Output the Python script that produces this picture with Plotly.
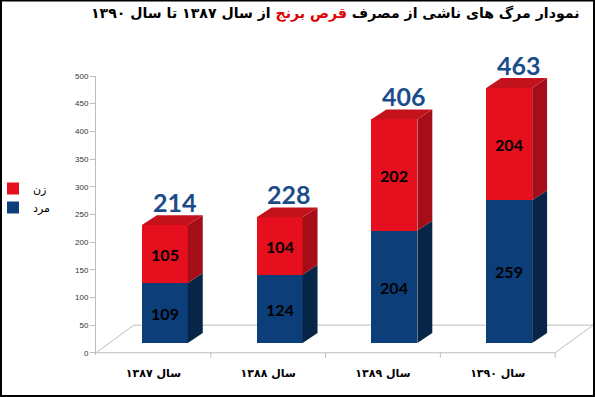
import plotly.graph_objects as go

# ---------------- data ----------------
categories = ["سال ۱۳۸۷", "سال ۱۳۸۸", "سال ۱۳۸۹", "سال ۱۳۹۰"]
men = [109, 124, 204, 259]
women = [105, 104, 202, 204]
totals = [214, 228, 406, 463]
series_names = ["مرد", "زن"]
y_ticks = list(range(0, 501, 50))

# ---------------- layout constants ----------------
W, H = 595, 397
ML, MR, MT, MB = 96, 2, 76, 42
PW, PH = W - ML - MR, H - MT - MB
X_RANGE = [-0.5, 3.83]
Y_RANGE = [-4, 500]
Y2_RANGE = [-21.8, 484.6]
OFF, BW, DX, DY = 0.1, 0.4, 0.13, 18   # bar offset/width/3-D depth (axis units)
FLOOR_DX, FLOOR_DY = 0.33, 50

RED_FRONT, RED_SIDE, RED_TOP = "#e50f1d", "#a50e18", "#c4121c"
BLUE_FRONT, BLUE_SIDE = "#0c3e7a", "#072647"
AXIS_GRAY = "#bdbdbd"
AR_FONT = "DejaVu Sans"


def px_x(px):
    return (px - ML) / PW


def px_y(py):
    return (H - MB - py) / PH


xs = [i + OFF for i in range(len(categories))]

fig = go.Figure()

# front faces
fig.add_trace(go.Bar(
    x=xs, y=men, name=series_names[0], width=BW, yaxis="y2",
    marker=dict(color=BLUE_FRONT, line=dict(width=0)),
    text=men, texttemplate="%{y}", textposition="inside",
    insidetextanchor="middle", constraintext="none",
    textfont=dict(family="Lato", size=16, color="black", weight="bold"),
    hoverinfo="skip"))
fig.add_trace(go.Bar(
    x=xs, y=women, name=series_names[1], width=BW, yaxis="y2",
    marker=dict(color=RED_FRONT, line=dict(width=0)),
    text=women, texttemplate="%{y}", textposition="inside",
    insidetextanchor="middle", constraintext="none",
    textfont=dict(family="Lato", size=16, color="black", weight="bold"),
    hoverinfo="skip"))


def side_poly(bases, tops):
    px, py = [], []
    for x, b, t in zip(xs, bases, tops):
        xr = x + BW / 2
        px += [xr, xr + DX, xr + DX, xr, xr, None]
        py += [b, b + DY, t + DY, t, b, None]
    return px, py


def top_poly(tops):
    px, py = [], []
    for x, t in zip(xs, tops):
        xl, xr = x - BW / 2, x + BW / 2
        px += [xl, xl + DX, xr + DX, xr, xl, None]
        py += [t, t + DY, t + DY, t, t, None]
    return px, py


bx, by = side_poly([0] * len(men), men)
fig.add_trace(go.Scatter(x=bx, y=by, yaxis="y2", mode="lines", fill="toself",
                         fillcolor=BLUE_SIDE, line=dict(width=0),
                         showlegend=False, hoverinfo="skip"))
rx, ry = side_poly(men, totals)
fig.add_trace(go.Scatter(x=rx, y=ry, yaxis="y2", mode="lines", fill="toself",
                         fillcolor=RED_SIDE, line=dict(width=0),
                         showlegend=False, hoverinfo="skip"))
tx, ty = top_poly(totals)
fig.add_trace(go.Scatter(x=tx, y=ty, yaxis="y2", mode="lines", fill="toself",
                         fillcolor=RED_TOP, line=dict(width=0),
                         showlegend=False, hoverinfo="skip"))

# total labels
annotations = []
for x, t in zip(xs, totals):
    annotations.append(dict(
        x=x + DX / 2 + 0.02, y=t + DY, xref="x", yref="y2", text=str(t),
        showarrow=False, yanchor="bottom", yshift=-4,
        font=dict(family="Lato", size=25, color="#1b4c8a", weight="bold")))

# title (RTL)
annotations.append(dict(
    x=px_x(581), y=px_y(14), xref="paper", yref="paper", xanchor="right",
    yanchor="middle", showarrow=False,
    text=("نمودار مرگ های ناشی از مصرف "
          "<span style='color:#e00000'>قرص برنج</span>"
          " از سال ۱۳۸۷ تا سال ۱۳۹۰"),
    font=dict(family=AR_FONT, size=14.1, color="black", weight="bold")))

# floor & axis decoration
shapes = []
line = dict(color=AXIS_GRAY, width=1)
shapes.append(dict(type="line", xref="x", yref="y", x0=X_RANGE[0], y0=0,
                   x1=3.5, y1=0, line=line, layer="below"))
shapes.append(dict(type="line", xref="x", yref="y", x0=X_RANGE[0], y0=0,
                   x1=X_RANGE[0] + FLOOR_DX, y1=FLOOR_DY, line=line, layer="below"))
shapes.append(dict(type="line", xref="x", yref="y", x0=3.5, y0=0,
                   x1=3.5 + FLOOR_DX, y1=FLOOR_DY, line=line, layer="below"))
shapes.append(dict(type="line", xref="x", yref="y", x0=X_RANGE[0] + FLOOR_DX,
                   y0=FLOOR_DY, x1=3.5 + FLOOR_DX, y1=FLOOR_DY, line=line,
                   layer="below"))
y0_paper = (0 - Y_RANGE[0]) / (Y_RANGE[1] - Y_RANGE[0])
for b in [0.5, 1.5, 2.5, 3.5]:
    shapes.append(dict(type="line", xref="x", yref="paper", x0=b, x1=b,
                       y0=y0_paper, y1=y0_paper - 5 / PH, line=line))
# frame
shapes.append(dict(type="rect", xref="paper", yref="paper",
                   x0=px_x(1), x1=px_x(594), y0=px_y(396), y1=px_y(0.5),
                   line=dict(color="black", width=2)))

fig.update_layout(
    width=W, height=H,
    margin=dict(l=ML, r=MR, t=MT, b=MB, autoexpand=False),
    paper_bgcolor="white", plot_bgcolor="white",
    barmode="stack", bargap=0,
    showlegend=True,
    legend=dict(x=px_x(-7), y=px_y(174), xanchor="left", yanchor="top",
                traceorder="reversed", itemwidth=30,
                font=dict(family=AR_FONT, size=11, color="black"),
                bgcolor="rgba(0,0,0,0)", tracegroupgap=0),
    xaxis=dict(range=X_RANGE, tickmode="array",
               tickvals=list(range(len(categories))), ticktext=categories,
               showline=False, showgrid=False, zeroline=False, ticks="",
               ticklabelstandoff=10,
               tickfont=dict(family=AR_FONT, size=11, color="black",
                             weight="bold")),
    yaxis=dict(range=Y_RANGE, tickmode="array", tickvals=y_ticks,
               showline=True, linecolor=AXIS_GRAY, linewidth=1,
               ticks="outside", ticklen=5, tickcolor=AXIS_GRAY,
               showgrid=False, zeroline=False,
               tickfont=dict(family="Liberation Sans", size=8, color="#333333")),
    yaxis2=dict(range=Y2_RANGE, overlaying="y", visible=False,
                showgrid=False, zeroline=False),
    annotations=annotations, shapes=shapes,
)

fig.write_html("out.html", config={"displayModeBar": False},
               post_script="document.body.style.margin='0';"
                           "document.body.style.overflow='hidden';")
